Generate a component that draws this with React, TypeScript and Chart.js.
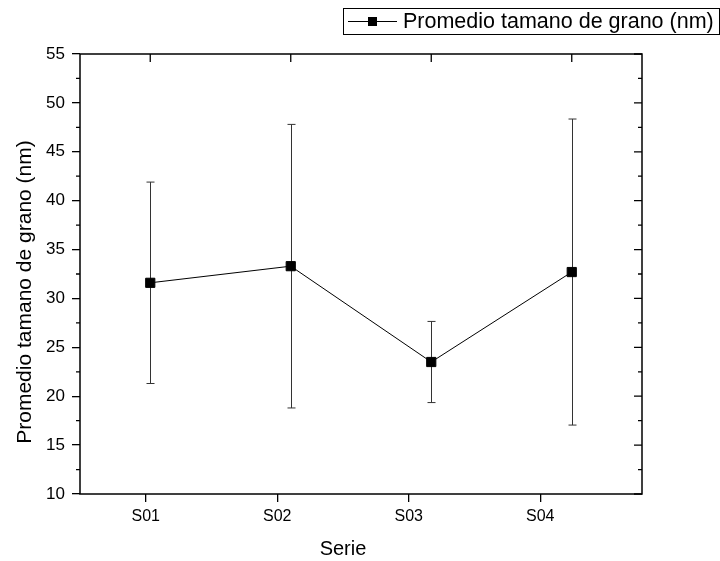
import React, { useEffect, useRef } from 'react';
import { Chart, registerables } from 'chart.js';

Chart.register(...registerables);

// ---- data ----
const categories = ['S01', 'S02', 'S03', 'S04'];
const categoryPositions = [0, 1, 2, 3];
const meanValues = [31.6, 33.3, 23.5, 32.7];
const errorValues = [10.3, 14.5, 4.15, 15.65];
const yMin = 10;
const yMax = 55;
const yMajorStep = 5;
const yMinorStep = 2.5;
const seriesLabel = 'Promedio tamano de grano (nm)';
const xTitle = 'Serie';
const yTitle = 'Promedio tamano de grano (nm)';

const FONT = 'Arial, "Liberation Sans", sans-serif';

const decorPlugin = {
  id: 'originDecor',
  beforeDatasetsDraw(chart: any) {
    const ctx = chart.ctx;
    const xs = chart.scales.x;
    const ys = chart.scales.y;
    ctx.save();
    ctx.strokeStyle = '#333';
    ctx.lineWidth = 1;
    categoryPositions.forEach((p, i) => {
      const x = Math.round(xs.getPixelForValue(p)) + 0.5;
      const yt = ys.getPixelForValue(meanValues[i] + errorValues[i]);
      const yb = ys.getPixelForValue(meanValues[i] - errorValues[i]);
      ctx.beginPath();
      ctx.moveTo(x, yt);
      ctx.lineTo(x, yb);
      ctx.moveTo(x - 4, yt);
      ctx.lineTo(x + 4, yt);
      ctx.moveTo(x - 4, yb);
      ctx.lineTo(x + 4, yb);
      ctx.stroke();
    });
    ctx.restore();
  },
  afterDraw(chart: any) {
    const ctx = chart.ctx;
    const { left, right, top, bottom } = chart.chartArea;
    const xs = chart.scales.x;
    const xb = chart.scales.xb;
    const ys = chart.scales.y;
    ctx.save();
    ctx.strokeStyle = '#000';
    ctx.lineWidth = 1.5;
    // frame
    ctx.strokeRect(left, top, right - left, bottom - top);
    ctx.lineWidth = 1.3;
    ctx.beginPath();
    // y ticks: left minor outward, right major+minor inward
    for (let v = yMin; v <= yMax + 1e-9; v += yMinorStep) {
      const y = ys.getPixelForValue(v);
      const major = Math.abs(v / yMajorStep - Math.round(v / yMajorStep)) < 1e-6;
      if (!major) {
        ctx.moveTo(left, y);
        ctx.lineTo(left - 4, y);
      }
      ctx.moveTo(right, y);
      ctx.lineTo(right - (major ? 8 : 4), y);
    }
    // top ticks inward
    categoryPositions.forEach((p) => {
      const x = xs.getPixelForValue(p);
      ctx.moveTo(x, top);
      ctx.lineTo(x, top + 8);
    });
    ctx.stroke();

    // x title
    ctx.fillStyle = '#000';
    ctx.font = `20px ${FONT}`;
    ctx.textAlign = 'center';
    ctx.textBaseline = 'middle';
    const cx = (xb.getPixelForValue(categoryPositions[0]) + xb.getPixelForValue(categoryPositions[categoryPositions.length - 1])) / 2;
    ctx.fillText(xTitle, cx, 549);

    // y title
    ctx.save();
    ctx.font = `21px ${FONT}`;
    ctx.translate(25, ys.getPixelForValue((yMin + yMax) / 2) + 18);
    ctx.rotate(-Math.PI / 2);
    ctx.fillText(yTitle, 0, 0);
    ctx.restore();

    // legend
    ctx.lineWidth = 1;
    ctx.strokeStyle = '#000';
    ctx.strokeRect(343.5, 8.5, 376, 26);
    ctx.beginPath();
    ctx.moveTo(348, 21.5);
    ctx.lineTo(397, 21.5);
    ctx.stroke();
    ctx.fillRect(368, 17, 9, 9);
    ctx.textAlign = 'left';
    ctx.font = `21.5px ${FONT}`;
    ctx.fillText(seriesLabel, 403, 22);
    ctx.restore();
  },
};

export default function App() {
  const ref = useRef<HTMLCanvasElement>(null);
  useEffect(() => {
    if (!ref.current) return;
    const chart = new Chart(ref.current, {
      type: 'line',
      data: {
        datasets: [
          {
            label: seriesLabel,
            data: categoryPositions.map((x, i) => ({ x, y: meanValues[i] })),
            borderColor: '#000',
            borderWidth: 1,
            pointStyle: 'rect',
            pointRadius: 6.5,
            pointHoverRadius: 6.5,
            pointBackgroundColor: '#000',
            pointBorderColor: '#000',
            pointBorderWidth: 1,
            xAxisID: 'x',
            yAxisID: 'y',
          },
        ],
      },
      options: {
        responsive: false,
        animation: false,
        devicePixelRatio: 1,
        layout: { padding: { left: 0, top: 54, right: 78, bottom: 0 } },
        plugins: { legend: { display: false }, tooltip: { enabled: false } },
        scales: {
          x: {
            type: 'linear',
            position: 'top',
            min: -0.5,
            max: 3.5,
            display: false,
          },
          xb: {
            type: 'linear',
            position: 'bottom',
            min: -0.5,
            max: 3.774,
            afterBuildTicks: (s: any) => {
              s.ticks = categoryPositions.map((v) => ({ value: v }));
            },
            afterFit: (s: any) => {
              s.height = 67;
            },
            ticks: {
              callback: (v: any) => categories[categoryPositions.indexOf(Number(v))] ?? '',
              font: { family: FONT, size: 16 },
              color: '#000',
              padding: 5,
              maxRotation: 0,
              autoSkip: false,
            },
            grid: { drawOnChartArea: false, drawTicks: true, tickLength: 8, color: '#000', lineWidth: 1.3 },
            border: { display: false },
          },
          y: {
            type: 'linear',
            position: 'left',
            min: yMin,
            max: yMax,
            afterFit: (s: any) => {
              s.width = 80;
            },
            ticks: {
              stepSize: yMajorStep,
              font: { family: FONT, size: 17 },
              color: '#000',
              padding: 7,
            },
            grid: { drawOnChartArea: false, drawTicks: true, tickLength: 8, color: '#000', lineWidth: 1.3 },
            border: { display: false },
          },
        },
      },
      plugins: [decorPlugin],
    });
    return () => chart.destroy();
  }, []);
  return (
    <div style={{ position: 'absolute', left: 0, top: 0, width: 720, height: 561 }}>
      <canvas ref={ref} width={720} height={561} />
    </div>
  );
}
